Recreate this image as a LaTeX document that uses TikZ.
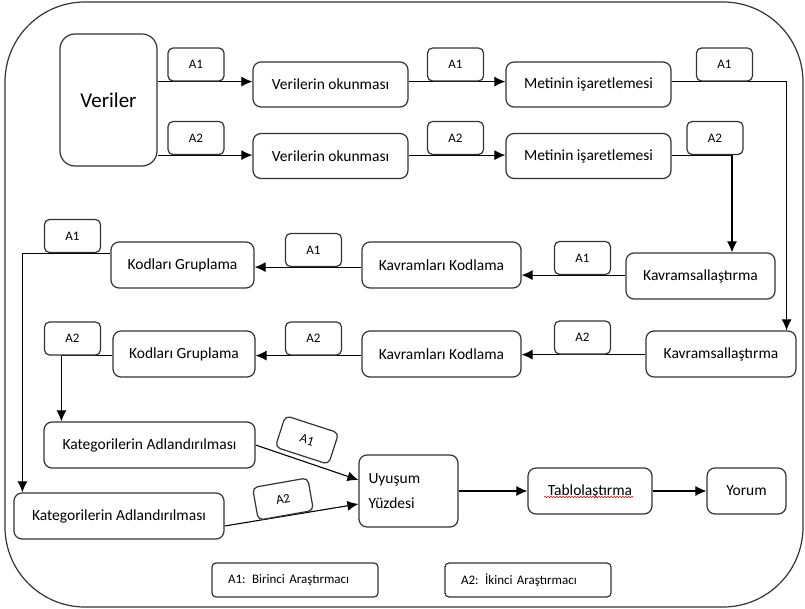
\documentclass[tikz,border=0pt]{standalone}
\usepackage{fontspec}
\setmainfont{Carlito}
\usetikzlibrary{arrows.meta, backgrounds, decorations.pathmorphing}
\tikzset{>={Latex[length=11pt,width=10pt]}}
\tikzset{stepbox/.style = {draw=black!80, line width=1.2pt, rounded corners=8pt, fill=white, minimum height=46pt, inner sep=2pt, font=\fontsize{15.5}{18}\selectfont}}
\tikzset{tagbox/.style = {draw=black!80, line width=1.2pt, rounded corners=5pt, fill=white, minimum width=56pt, minimum height=33pt, inner sep=1pt, font=\fontsize{13}{15}\selectfont}}
\tikzset{legendbox/.style = {draw=black!80, line width=1.2pt, rounded corners=4pt, fill=white, minimum width=166pt, minimum height=34pt, text width=134pt, align=left, font=\fontsize{13}{15}\selectfont}}
\tikzset{link/.style = {line width=1.1pt}}

\begin{document}
\begin{tikzpicture}[x=1pt, y=-1pt]
		\useasboundingbox (0,0) rectangle (805,609);

		% Start
		\node[stepbox, rounded corners=15pt, minimum width=97pt, minimum height=132pt, font=\fontsize{21}{24}\selectfont] (veriler) at (108.5,100) {Veriler};

		% First two rows
		\node[stepbox, minimum width=155pt, minimum height=45pt] (oku1) at (330.5,84.5) {Verilerin okunması};
		\node[stepbox, minimum width=155pt, minimum height=45pt] (oku2) at (330.5,156) {Verilerin okunması};
		\node[stepbox, minimum width=165pt, minimum height=45pt] (metin1) at (588.5,84.5) {Metinin işaretlemesi};
		\node[stepbox, minimum width=165pt, minimum height=45pt] (metin2) at (588.5,156) {Metinin işaretlemesi};

		% Coding rows
		\node[stepbox, minimum width=149pt] (kavram1) at (700.5,276) {Kavramsallaştırma};
		\node[stepbox, minimum width=150pt] (kavram2) at (721,354) {Kavramsallaştırma};
		\node[stepbox, minimum width=159pt] (kod1) at (441.5,265) {Kavramları Kodlama};
		\node[stepbox, minimum width=159pt] (kod2) at (441.5,354) {Kavramları Kodlama};
		\node[stepbox, minimum width=143pt] (grup1) at (182.5,265) {Kodları Gruplama};
		\node[stepbox, minimum width=142pt] (grup2) at (184,354) {Kodları Gruplama};

		% Categories and result
		\node[stepbox, minimum width=211pt] (kat1) at (149.5,445) {Kategorilerin Adlandırılması};
		\node[stepbox, minimum width=210pt] (kat2) at (119,516) {Kategorilerin Adlandırılması};
		\node[stepbox, minimum width=99pt, minimum height=72pt, text width=80pt, align=left, font=\fontsize{15.5}{25}\selectfont] (uyusum) at (408.5,491) {Uyuşum\\Yüzdesi};
		\node[stepbox, minimum width=124pt] (tablo) at (590,491) {Tablolaştırma};
		\node[stepbox, minimum width=79pt] (yorum) at (746.5,491) {Yorum};

		% Researcher tags
		\node[tagbox] (ta) at (196,64.5) {A1};
		\node[tagbox] (tb) at (196,138) {A2};
		\node[tagbox] (tc) at (455.5,64.5) {A1};
		\node[tagbox] (td) at (455.5,138) {A2};
		\node[tagbox] (te) at (724.5,64.5) {A1};
		\node[tagbox] (tf) at (715,138) {A2};
		\node[tagbox] (tg) at (582.5,258) {A1};
		\node[tagbox] (th) at (582.5,337.5) {A2};
		\node[tagbox] (ti) at (313.5,250) {A1};
		\node[tagbox] (tj) at (313.5,338.5) {A2};
		\node[tagbox] (tk) at (72.5,236) {A1};
		\node[tagbox] (tl) at (72.5,338.5) {A2};
		\node[tagbox, rotate=-18] (tm) at (307,440) {A1};
		\node[tagbox, rotate=10] (tn) at (283,499) {A2};

		% Legend
		\node[legendbox] (leg1) at (295,580) {A1: Birinci Araştırmacı};
		\node[legendbox] (leg2) at (528,580) {A2: İkinci Araştırmacı};

		% Spelling mark
		\draw[red, line width=0.5pt, decorate, decoration={snake, amplitude=0.8pt, segment length=3pt}] ([xshift=-46pt, yshift=-6pt]tablo.center) -- ([xshift=43pt, yshift=-6pt]tablo.center);

		\begin{pgfonlayer}{background}
		% Frame
		\draw[line width=1.2pt, black!80, rounded corners=80pt] (5,2) rectangle (803,607);

		% Arrows
		\draw[link, ->] (veriler.east |- ta.south) -- (oku1.west |- ta.south);
		\draw[link, ->] (veriler.east |- tb.south) -- (oku2.west |- tb.south);
		\draw[link, ->] (oku1.east |- tc.south) -- (metin1.west |- tc.south);
		\draw[link, ->] (oku2.east |- td.south) -- (metin2.west |- td.south);
		\draw[link, ->] (metin1.east |- te.south) -| ([xshift=-10pt]kavram2.north east);
		\draw[link, ->] (metin2.east |- tf.south) -| ([xshift=31.5pt]kavram1.north);
		\draw[link, ->] (kavram1.west |- tg.south) -- (kod1.east |- tg.south);
		\draw[link, ->] (kavram2.west |- th.south) -- (kod2.east |- th.south);
		\draw[link, ->] (kod1.west |- ti.south) -- (grup1.east |- ti.south);
		\draw[link, ->] (kod2.west |- tj.south) -- (grup2.east |- tj.south);
		\draw[link, ->] (grup1.west |- tk.south) -| ([xshift=9pt]kat2.north west);
		\draw[link, ->] (grup2.west |- tl.south) -| ([xshift=18pt]kat1.north west);
		\draw[link, ->] (kat1.east) -- ([yshift=11pt]uyusum.west);
		\draw[link, ->] ([yshift=-10pt]kat2.east) -- ([yshift=-13pt]uyusum.west);
		\draw[link, ->] (uyusum.east) -- (tablo.west);
		\draw[link, ->] (tablo.east) -- (yorum.west);
		\end{pgfonlayer}
	\end{tikzpicture}
\end{document}
